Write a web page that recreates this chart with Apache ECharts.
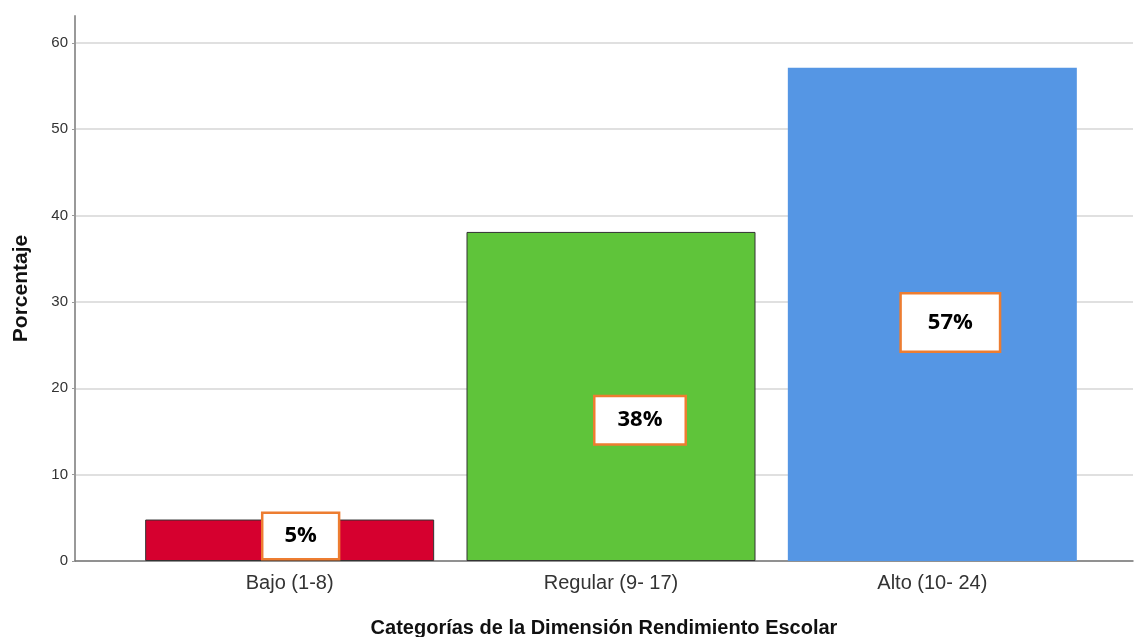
<!DOCTYPE html>
<html>
<head>
<meta charset="utf-8">
<title>Rendimiento Escolar</title>
<script src="https://cdn.jsdelivr.net/npm/echarts@6/dist/echarts.min.js"></script>
<style>
  html, body { margin: 0; padding: 0; background: #fff; }
  #main { width: 1135px; height: 637px; }
</style>
</head>
<body>
<div id="main"></div>
<script>
// datos
const categorias = ['Bajo (1-8)', 'Regular (9- 17)', 'Alto (10- 24)'];
const porcentajes = [4.8, 38.1, 57.1];
const etiquetas = ['5%', '38%', '57%'];
const colores = ['#D6002F', '#5FC43A', '#5596E4'];
const ticksY = [0, 10, 20, 30, 40, 50, 60];

// posicion de cada caja de etiqueta (valor y desplazamiento)
const posEtiqueta = [
  { y: 2.9, dx: 11, pad: [13, 21, 9, 21] },
  { y: 16.3, dx: 29, pad: [13, 22, 11, 22] },
  { y: 27.6, dx: 18, pad: [18, 26, 16, 26] }
];

const chart = echarts.init(document.getElementById('main'));

const gridTop = 16, gridBottom = 76;
const yMax = 63.1;

const option = {
  animation: false,
  textStyle: { fontFamily: 'Liberation Sans, Arial, sans-serif' },
  grid: [
    { left: 75, right: 2, top: gridTop, bottom: gridBottom, outerBoundsMode: 'none', containLabel: false },
    { left: 129, right: 42, top: gridTop, bottom: gridBottom, outerBoundsMode: 'none', containLabel: false }
  ],
  xAxis: [
    {
      gridIndex: 0,
      type: 'value',
      min: 0,
      max: 1,
      axisLine: { show: true, lineStyle: { color: '#777', width: 1.5 } },
      axisTick: { show: false },
      axisLabel: { show: false },
      splitLine: { show: false },
      name: 'Categorías de la Dimensión Rendimiento Escolar',
      nameLocation: 'middle',
      nameGap: 57,
      nameTextStyle: { fontSize: 20, fontWeight: 'bold', color: '#111' }
    },
    {
      gridIndex: 1,
      type: 'category',
      data: categorias,
      axisLine: { show: false },
      axisTick: { show: false },
      axisLabel: { fontSize: 20, color: '#333', margin: 12 }
    }
  ],
  yAxis: [
    {
      gridIndex: 0,
      type: 'value',
      min: 0,
      max: yMax,
      interval: 10,
      axisLine: { show: true, lineStyle: { color: '#999', width: 2 } },
      axisTick: { show: true, length: 3, lineStyle: { color: '#999' } },
      axisLabel: {
        fontSize: 15,
        color: '#333',
        margin: 7,
        showMaxLabel: false,
        formatter: function (v) { return ticksY.indexOf(v) >= 0 ? v : ''; }
      },
      splitLine: { show: true, showMaxLine: false, lineStyle: { color: '#d6d6d6', width: 1.5 } },
      name: 'Porcentaje',
      nameLocation: 'middle',
      nameGap: 43,
      nameTextStyle: { fontSize: 21, fontWeight: 'bold', color: '#111' }
    },
    {
      gridIndex: 1,
      type: 'value',
      min: 0,
      max: yMax,
      show: false
    }
  ],
  series: [
    {
      type: 'bar',
      xAxisIndex: 1,
      yAxisIndex: 1,
      barWidth: 289,
      data: porcentajes.map(function (v, i) {
        return {
          value: v,
          itemStyle: {
            color: colores[i],
            borderColor: i < 2 ? '#333' : colores[i],
            borderWidth: i < 2 ? 1 : 0
          }
        };
      })
    },
    {
      // cajas de etiqueta
      type: 'scatter',
      xAxisIndex: 1,
      yAxisIndex: 1,
      symbolSize: 0,
      z: 10,
      itemStyle: { opacity: 1 },
      data: posEtiqueta.map(function (p, i) {
        return {
          value: [i, p.y],
          label: {
            show: true,
            position: 'inside',
            offset: [p.dx, 0],
            formatter: etiquetas[i],
            fontFamily: 'Open Sans, sans-serif',
            fontSize: 22,
            fontWeight: 'bold',
            color: '#000',
            opacity: 1,
            backgroundColor: '#fff',
            borderColor: '#ED7D31',
            borderWidth: 2.5,
            padding: p.pad
          }
        };
      })
    }
  ]
};

chart.setOption(option);
</script>
</body>
</html>
